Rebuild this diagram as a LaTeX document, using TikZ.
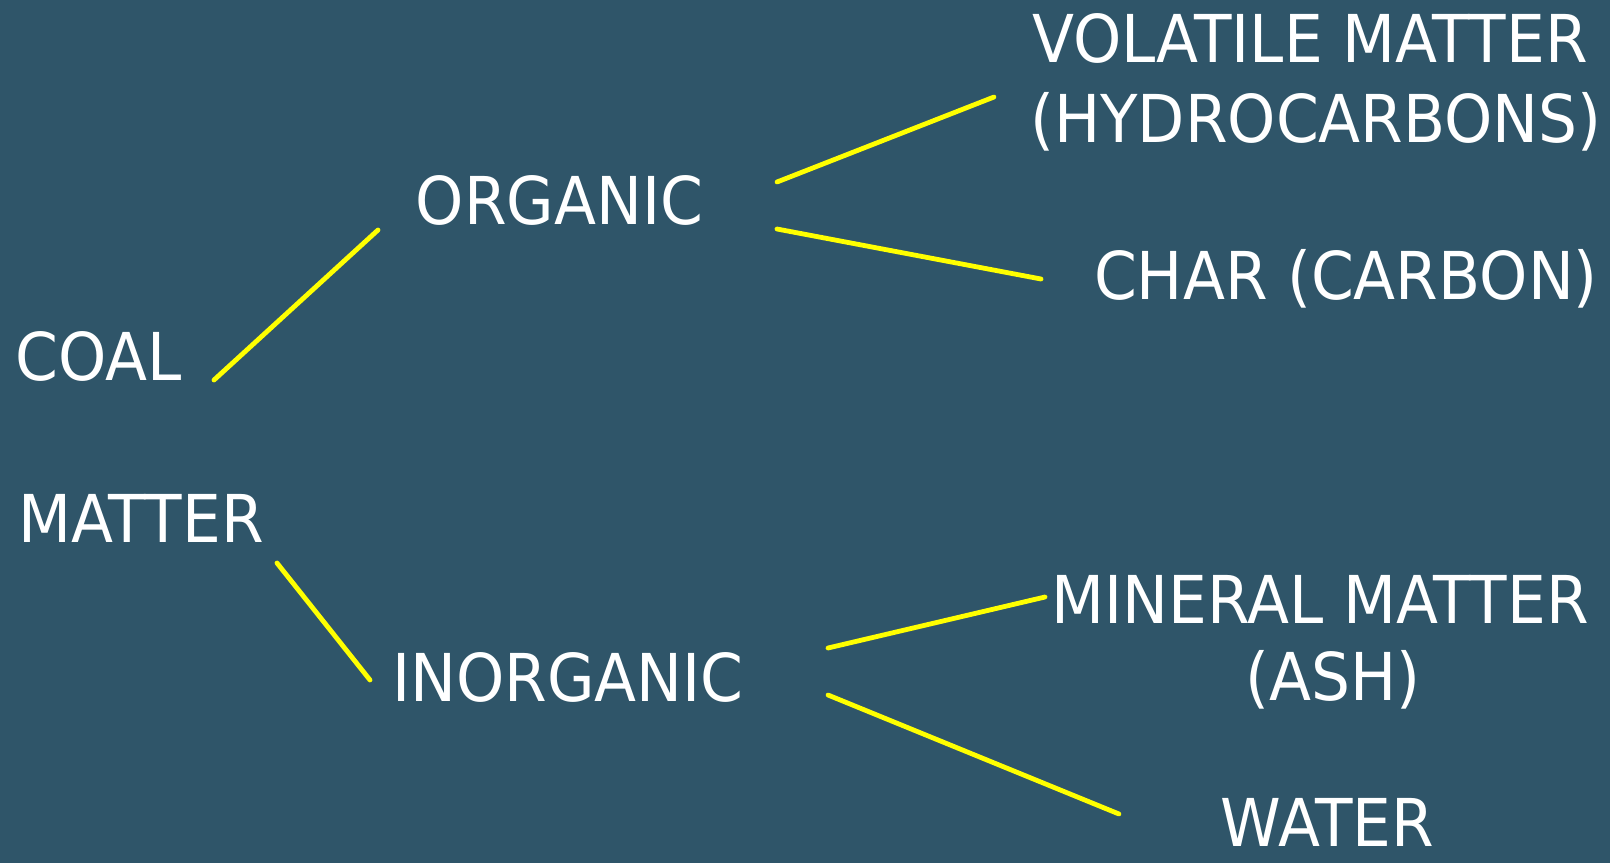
\documentclass[tikz,border=0pt]{standalone}
\usepackage{fontspec}
\setmainfont{DejaVu Sans}[FakeStretch=0.93]
\definecolor{bgblue}{RGB}{47,85,105}
\definecolor{lineyellow}{RGB}{255,255,0}
\begin{document}
\begin{tikzpicture}[x=1pt,y=-1pt,
  lbl/.style={text=white,font=\fontsize{66}{79}\selectfont,inner sep=0pt,anchor=base},
  link/.style={draw=lineyellow,line width=4.8pt,line cap=round}]
\fill[bgblue] (0,0) rectangle (1610,863);
\useasboundingbox (0,0) rectangle (1610,863);
\node[lbl] (coal) at (98.5,380) {COAL};
\node[lbl] (matter) at (141,542) {MATTER};
\node[lbl] (organic) at (559.5,224) {ORGANIC};
\node[lbl] (inorganic) at (568,701) {INORGANIC};
\node[lbl] (volatile) at (1310,62) {VOLATILE MATTER};
\node[lbl] (hydro) at (1316,142) {(HYDROCARBONS)};
\node[lbl] (char) at (1346,299) {CHAR (CARBON)};
\node[lbl] (mineral) at (1320,623) {MINERAL MATTER};
\node[lbl] (ash) at (1333,700) {(ASH)};
\node[lbl] (water) at (1327.5,846) {WATER};
\coordinate (coalE) at (214,380);
\coordinate (orgW) at (378,230);
\coordinate (matterE) at (277,563);
\coordinate (inorgW) at (370,680);
\coordinate (orgNE) at (777,182);
\coordinate (volW) at (994,97);
\coordinate (orgSE) at (777,229);
\coordinate (charW) at (1041,279);
\coordinate (inorgNE) at (828,648);
\coordinate (minW) at (1045,597);
\coordinate (inorgSE) at (828,695);
\coordinate (waterW) at (1119,814);
\draw[link] (coalE) -- (orgW);
\draw[link] (matterE) -- (inorgW);
\draw[link] (orgNE) -- (volW);
\draw[link] (orgSE) -- (charW);
\draw[link] (inorgNE) -- (minW);
\draw[link] (inorgSE) -- (waterW);
\end{tikzpicture}
\end{document}
